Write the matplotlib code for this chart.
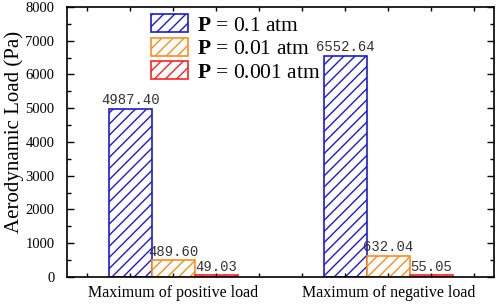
import matplotlib.pyplot as plt
import numpy as np
from matplotlib.ticker import MultipleLocator

categories = ["Maximum of positive load", "Maximum of negative load"]
series_labels = [r"$\mathbf{P}$ = 0.1 atm", r"$\mathbf{P}$ = 0.01 atm",
                 r"$\mathbf{P}$ = 0.001 atm"]
p_01 = [4987.40, 6552.64]
p_001 = [489.60, 632.04]
p_0001 = [49.03, 55.05]
colors = ["#1a1ad8", "#ff8c1a", "#ff2020"]

plt.rcParams["font.family"] = ["Liberation Serif", "DejaVu Serif"]
plt.rcParams["mathtext.fontset"] = "custom"
plt.rcParams["mathtext.bf"] = "Liberation Serif:bold"
plt.rcParams["hatch.linewidth"] = 1.0

fig = plt.figure(figsize=(4.98, 3.05), dpi=100)
ax = fig.add_axes([0.1345, 0.092, 0.857, 0.885])

x = np.arange(len(categories))
width = 0.2
series = [p_01, p_001, p_0001]
for i, (vals, lab, col) in enumerate(zip(series, series_labels, colors)):
    bars = ax.bar(x + (i - 1) * width, vals, width, label=lab,
                  facecolor="white", edgecolor=col, hatch="///",
                  linewidth=1.2)
    for b, v in zip(bars, vals):
        ax.annotate(f"{v:.2f}", (b.get_x() + b.get_width() / 2, v),
                    xytext=(0, 1), textcoords="offset points",
                    ha="center", va="bottom", fontsize=10,
                    family="Liberation Mono", color="#333333")

ax.set_xlim(-0.495, 1.49)
ax.set_ylim(0, 8000)
ax.set_xticks(x)
ax.set_xticklabels(categories)
ax.xaxis.set_minor_locator(MultipleLocator(0.2))
ax.yaxis.set_major_locator(MultipleLocator(1000))
ax.yaxis.set_minor_locator(MultipleLocator(500))
ax.tick_params(which="both", direction="in", top=True, right=True,
               width=1)
ax.tick_params(which="major", length=5)
ax.tick_params(axis="y", which="major", pad=9, labelsize=10.5)
ax.tick_params(which="minor", length=3)
ax.tick_params(axis="x", which="major", length=3, pad=6, labelsize=11.5)
ax.set_ylabel("Aerodynamic Load (Pa)", fontsize=15)
ax.yaxis.set_label_coords(-0.10, 0.537)
for s in ax.spines.values():
    s.set_linewidth(1.2)

ax.legend(loc="upper left", bbox_to_anchor=(0.196, 0.973), frameon=False,
          fontsize=15.5, handlelength=1.75, handleheight=0.9,
          handletextpad=0.4, labelspacing=0.1, borderpad=0,
          borderaxespad=0)

fig.savefig("out.png", dpi=100)
